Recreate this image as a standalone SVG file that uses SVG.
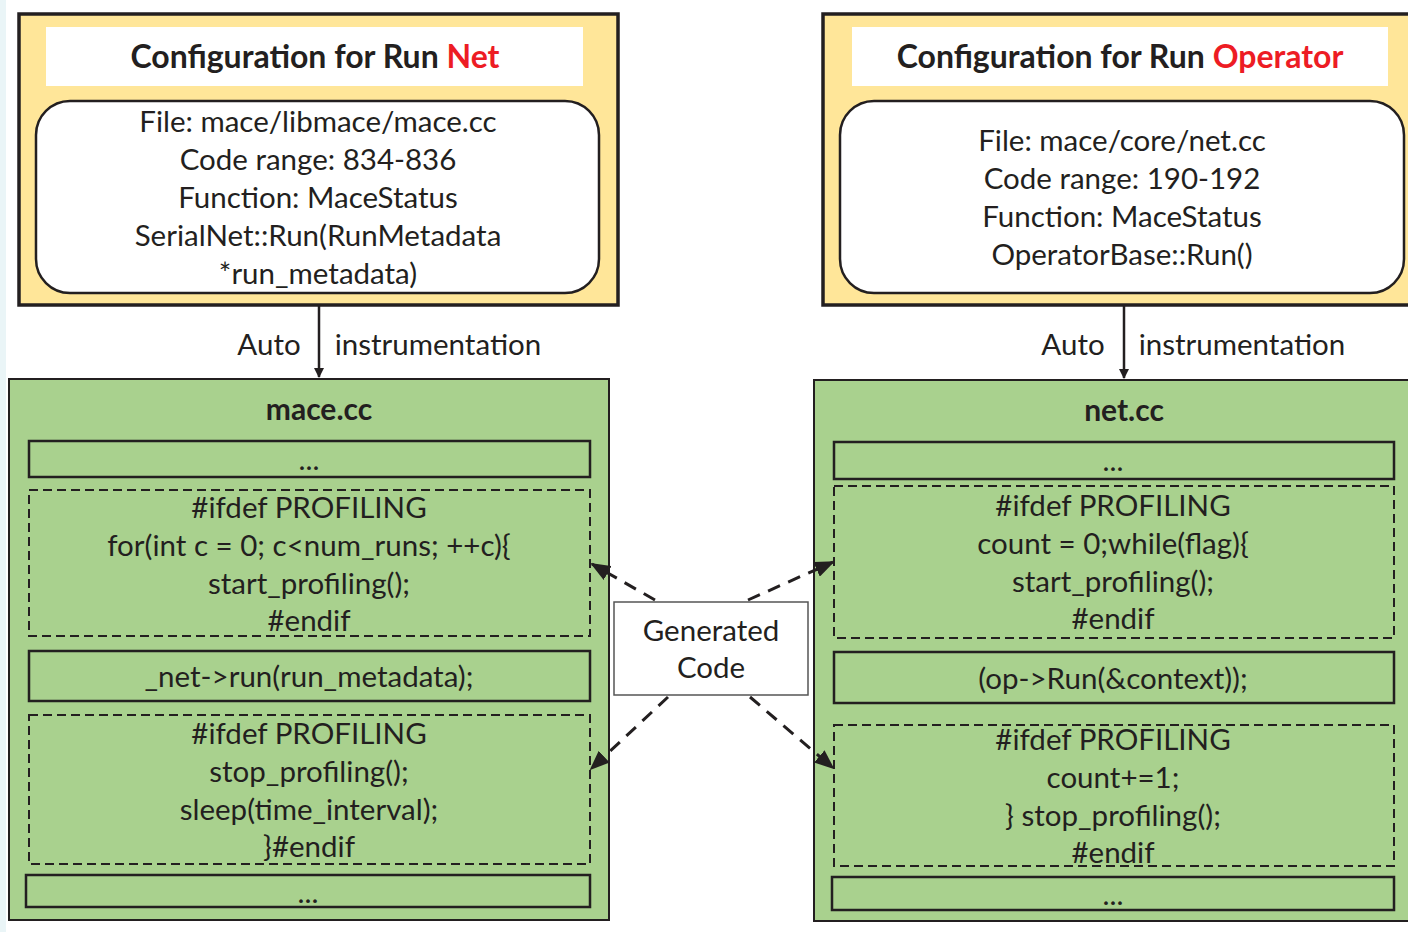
<svg xmlns="http://www.w3.org/2000/svg" width="1408" height="932" viewBox="0 0 1408 932">
<style>
.t{font-family:Lato,"Open Sans","Liberation Sans",sans-serif;font-size:29.5px;fill:#231f20;text-anchor:middle}
.b{font-weight:bold;font-size:30px}
.h{font-weight:bold;font-size:32px}
.red{fill:#ed1c24}
.cfg{fill:#ffe699;stroke:#231f20;stroke-width:3.5}
.ttl{fill:#ffffff;stroke:none}
.rr{fill:#ffffff;stroke:#231f20;stroke-width:2.5}
.grn{fill:#a9d18e;stroke:#231f20;stroke-width:2}
.solid{fill:none;stroke:#231f20;stroke-width:2.5}
.dash{fill:none;stroke:#231f20;stroke-width:2;stroke-dasharray:9 5}
.gen{fill:#ffffff;stroke:#555;stroke-width:1.5}
.arr{fill:none;stroke:#231f20;stroke-width:2.5}
.darr{fill:none;stroke:#231f20;stroke-width:3;stroke-dasharray:13 9}
</style>
<defs>
<marker id="ah" markerWidth="10" markerHeight="10" refX="9" refY="5" orient="auto" markerUnits="userSpaceOnUse" viewBox="0 0 10 10">
<path d="M0,0 L10,5 L0,10 z" fill="#231f20"/>
</marker>
<marker id="ah2" markerWidth="20" markerHeight="16" refX="18" refY="8" orient="auto" markerUnits="userSpaceOnUse" viewBox="0 0 20 16">
<path d="M0,0 L20,8 L0,16 z" fill="#231f20"/>
</marker>
</defs>
<rect x="0" y="0" width="1408" height="932" fill="#ffffff"/>
<rect x="0" y="0" width="6" height="932" fill="#eaf5f7"/>

<g id="cfg-net">
<rect class="cfg" x="19" y="14" width="599" height="291"/>
<rect class="ttl" x="46" y="27" width="537" height="59"/>
<text class="t h" x="315" y="68">Configuration for Run <tspan class="red">Net</tspan></text>
<rect class="rr" x="36" y="101" width="563" height="192" rx="34"/>
<text class="t" x="318" y="132">File: mace/libmace/mace.cc</text>
<text class="t" x="318" y="170">Code range: 834-836</text>
<text class="t" x="318" y="208">Function: MaceStatus</text>
<text class="t" x="318" y="246">SerialNet::Run(RunMetadata</text>
<text class="t" x="318" y="284">*run_metadata)</text>
</g>

<g id="cfg-op">
<rect class="cfg" x="823" y="14" width="600" height="291"/>
<rect class="ttl" x="852" y="27" width="536" height="59"/>
<text class="t h" x="1120" y="68">Configuration for Run <tspan class="red">Operator</tspan></text>
<rect class="rr" x="840" y="101" width="564" height="192" rx="34"/>
<text class="t" x="1122" y="151">File: mace/core/net.cc</text>
<text class="t" x="1122" y="189">Code range: 190-192</text>
<text class="t" x="1122" y="227">Function: MaceStatus</text>
<text class="t" x="1122" y="265">OperatorBase::Run()</text>
</g>

<g id="mace-cc">
<rect class="grn" x="9" y="379" width="600" height="541"/>
<text class="t b" x="319" y="420">mace.cc</text>
<rect class="solid" x="29" y="441" width="561" height="36"/>
<text class="t" x="309" y="470">...</text>
<rect class="dash" x="29" y="490" width="561" height="146"/>
<text class="t" x="309" y="518">#ifdef PROFILING</text>
<text class="t" x="309" y="556">for(int c = 0; c&lt;num_runs; ++c){</text>
<text class="t" x="309" y="594">start_profiling();</text>
<text class="t" x="309" y="631">#endif</text>
<rect class="solid" x="29" y="651" width="561" height="50"/>
<text class="t" x="309" y="687">_net-&gt;run(run_metadata);</text>
<rect class="dash" x="29" y="715" width="561" height="149"/>
<text class="t" x="309" y="744">#ifdef PROFILING</text>
<text class="t" x="309" y="782">stop_profiling();</text>
<text class="t" x="309" y="820">sleep(time_interval);</text>
<text class="t" x="309" y="857">}#endif</text>
<rect class="solid" x="26" y="875" width="564" height="32"/>
<text class="t" x="308" y="903">...</text>
</g>

<g id="net-cc">
<rect class="grn" x="814" y="380" width="600" height="541"/>
<text class="t b" x="1124" y="421">net.cc</text>
<rect class="solid" x="834" y="442" width="560" height="37"/>
<text class="t" x="1113" y="471">...</text>
<rect class="dash" x="834" y="486" width="560" height="152"/>
<text class="t" x="1113" y="516">#ifdef PROFILING</text>
<text class="t" x="1113" y="554">count = 0;while(flag){</text>
<text class="t" x="1113" y="592">start_profiling();</text>
<text class="t" x="1113" y="629">#endif</text>
<rect class="solid" x="834" y="652" width="560" height="51"/>
<text class="t" x="1113" y="689">(op-&gt;Run(&amp;context));</text>
<rect class="dash" x="834" y="725" width="560" height="141"/>
<text class="t" x="1113" y="750">#ifdef PROFILING</text>
<text class="t" x="1113" y="788">count+=1;</text>
<text class="t" x="1113" y="826">} stop_profiling();</text>
<text class="t" x="1113" y="863">#endif</text>
<rect class="solid" x="832" y="877" width="562" height="33"/>
<text class="t" x="1113" y="905">...</text>
</g>

<g id="generated-code">
<rect class="gen" x="614" y="602" width="194" height="93"/>
<text class="t" x="711" y="641">Generated</text>
<text class="t" x="711" y="678">Code</text>
</g>

<g id="connectors">
<line class="arr" x1="319" y1="306" x2="319" y2="377" marker-end="url(#ah)"/>
<text class="t" x="269" y="355">Auto</text>
<text class="t" x="438" y="355">instrumentation</text>
<line class="arr" x1="1124" y1="306" x2="1124" y2="378" marker-end="url(#ah)"/>
<text class="t" x="1073" y="355">Auto</text>
<text class="t" x="1242" y="355">instrumentation</text>
<line class="darr" x1="655" y1="600" x2="592" y2="564" marker-end="url(#ah2)"/>
<line class="darr" x1="748" y1="600" x2="833" y2="562" marker-end="url(#ah2)"/>
<line class="darr" x1="668" y1="697" x2="591" y2="769" marker-end="url(#ah2)"/>
<line class="darr" x1="750" y1="697" x2="833" y2="768" marker-end="url(#ah2)"/>
</g>
</svg>
